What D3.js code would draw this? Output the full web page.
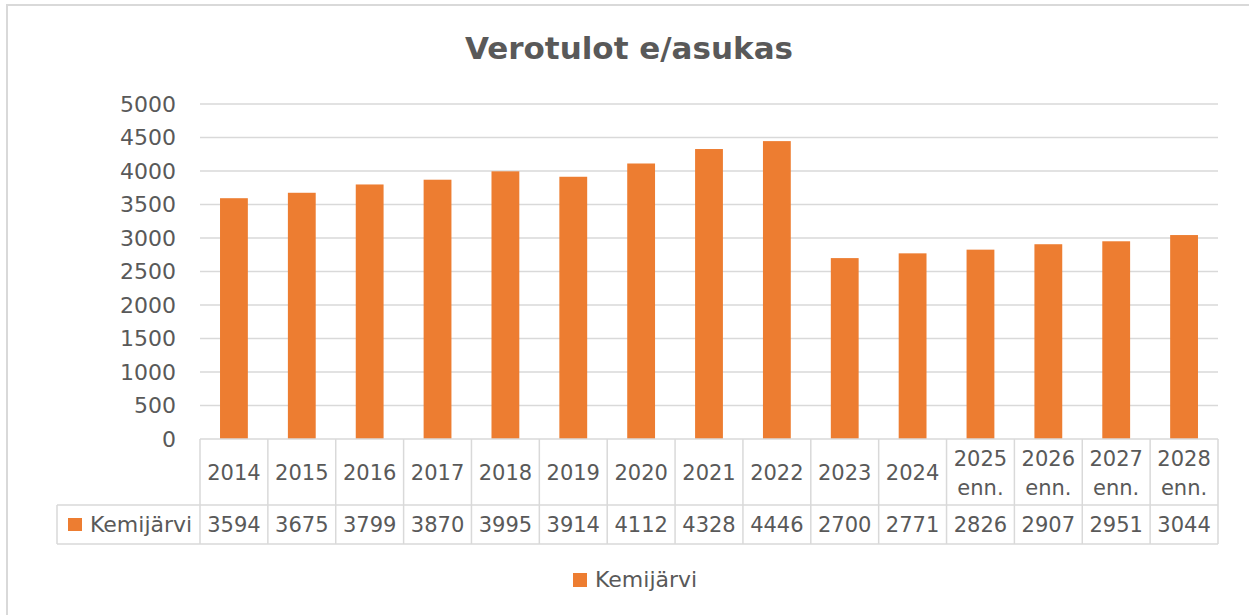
<!DOCTYPE html>
<html>
<head>
	<title>Verotulot e/asukas</title>
	<script src="https://d3js.org/d3.v7.min.js" charset="utf-8"></script>
	<style>
		body { margin: 0; background: #fff; }
		text { font-family: "DejaVu Sans", "Open Sans", sans-serif; fill: #595959; }
	</style>
</head>
<body>
	<svg width="1249" height="615"></svg>
	<script>
		// data
		var years = ["2014","2015","2016","2017","2018","2019","2020","2021","2022","2023","2024","2025","2026","2027","2028"];
		var suffix = ["","","","","","","","","","","","enn.","enn.","enn.","enn."];
		var values = [3594,3675,3799,3870,3995,3914,4112,4328,4446,2700,2771,2826,2907,2951,3044];
		var yTicks = [0,500,1000,1500,2000,2500,3000,3500,4000,4500,5000];
		var seriesName = "Kemijärvi";
		var title = "Verotulot e/asukas";

		const orange = "#ED7D31";
		const grid = "#d9d9d9";
		const plotLeft = 200, plotRight = 1218, plotTop = 104, plotBottom = 439;
		const rowSplit = 505, tableBottom = 544, tableLeft = 57;
		const fs = '22px', cellFs = '21px';

		var svg = d3.select('svg');

		// outer chart border
		svg.append('rect')
			.attr('x', 7).attr('y', 5)
			.attr('width', 1300).attr('height', 700)
			.attr('fill', 'none')
			.attr('stroke', grid)
			.attr('stroke-width', 2);

		svg.append('text')
			.attr('x', 629).attr('y', 59)
			.attr('text-anchor', 'middle')
			.style('font-size', '31px')
			.style('font-weight', 'bold')
			.text(title);

		const x = d3.scaleBand()
			.domain(years)
			.range([plotLeft, plotRight])
			.padding(0);

		const y = d3.scaleLinear()
			.domain([0, 5000])
			.range([plotBottom, plotTop]);

		// gridlines
		svg.append('g')
			.selectAll('line')
			.data(yTicks.filter(d => d > 0))
			.join('line')
			.attr('x1', plotLeft).attr('x2', plotRight)
			.attr('y1', d => y(d)).attr('y2', d => y(d))
			.attr('stroke', grid)
			.attr('stroke-width', 1.5);

		// y labels
		svg.append('g')
			.selectAll('text')
			.data(yTicks)
			.join('text')
			.attr('x', 176)
			.attr('y', d => y(d))
			.attr('dy', '0.36em')
			.attr('text-anchor', 'end')
			.style('font-size', fs)
			.text(d => d);

		// bars
		const barW = x.bandwidth() * 0.41;
		svg.append('g')
			.selectAll('rect')
			.data(values)
			.join('rect')
			.attr('x', (d, i) => x(years[i]) + (x.bandwidth() - barW) / 2)
			.attr('y', d => y(d))
			.attr('width', barW)
			.attr('height', d => y(0) - y(d))
			.attr('fill', orange);

		// data table
		const table = svg.append('g')
			.attr('stroke', grid)
			.attr('stroke-width', 1.5)
			.attr('fill', 'none');

		table.append('line').attr('x1', plotLeft).attr('x2', plotRight).attr('y1', plotBottom).attr('y2', plotBottom);
		table.append('line').attr('x1', tableLeft).attr('x2', plotRight).attr('y1', rowSplit).attr('y2', rowSplit);
		table.append('line').attr('x1', tableLeft).attr('x2', plotRight).attr('y1', tableBottom).attr('y2', tableBottom);
		table.append('line').attr('x1', tableLeft).attr('x2', tableLeft).attr('y1', rowSplit).attr('y2', tableBottom);
		table.selectAll('line.v')
			.data(years.map(d => x(d)).concat([plotRight]))
			.join('line')
			.attr('class', 'v')
			.attr('x1', d => d).attr('x2', d => d)
			.attr('y1', plotBottom).attr('y2', tableBottom);

		// header cells
		const head = svg.append('g')
			.selectAll('text')
			.data(years)
			.join('text')
			.attr('x', d => x(d) + x.bandwidth() / 2)
			.attr('text-anchor', 'middle')
			.style('font-size', cellFs);
		head.each(function(d, i) {
			const t = d3.select(this);
			if (suffix[i]) {
				t.append('tspan').attr('x', x(d) + x.bandwidth() / 2).attr('y', 466).text(d);
				t.append('tspan').attr('x', x(d) + x.bandwidth() / 2).attr('y', 495).text(suffix[i]);
			} else {
				t.attr('y', 480).text(d);
			}
		});

		// value cells
		svg.append('g')
			.selectAll('text')
			.data(values)
			.join('text')
			.attr('x', (d, i) => x(years[i]) + x.bandwidth() / 2)
			.attr('y', 532)
			.attr('text-anchor', 'middle')
			.style('font-size', cellFs)
			.text(d => d);

		svg.append('rect')
			.attr('x', 68).attr('y', 518)
			.attr('width', 14).attr('height', 13)
			.attr('fill', orange);
		svg.append('text')
			.attr('x', 90).attr('y', 532)
			.style('font-size', fs)
			.text(seriesName);

		// legend
		svg.append('rect')
			.attr('x', 573).attr('y', 573)
			.attr('width', 14).attr('height', 14)
			.attr('fill', orange);
		svg.append('text')
			.attr('x', 595).attr('y', 587)
			.style('font-size', fs)
			.text(seriesName);
	</script>
</body>
</html>
